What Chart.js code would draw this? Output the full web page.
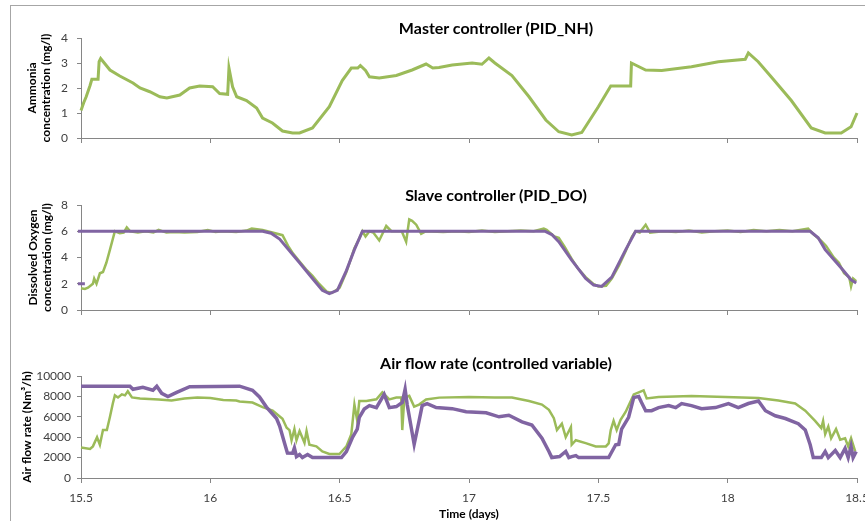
<!DOCTYPE html>
<html>
<head>
<meta charset="utf-8">
<script src="https://cdn.jsdelivr.net/npm/chart.js@4.4.0/dist/chart.umd.min.js"></script>
<style>
  html, body { margin: 0; padding: 0; background: #fff; }
  body { width: 865px; height: 521px; position: relative; overflow: hidden; font-family: Lato, sans-serif; }
  .frame { position: absolute; left: 10px; top: 5px; width: 900px; height: 600px; border: 1px solid #a6a6a6; }
  .panel { position: absolute; left: 0; }
  .title { position: absolute; font: bold 16px Lato, sans-serif; line-height: 20px; color: #000; transform: translateX(-50%); white-space: nowrap; }
</style>
</head>
<body>
<div class="frame"></div>
<canvas id="chartNH" class="panel" style="top:0" width="865" height="170"></canvas>
<canvas id="chartDO" class="panel" style="top:170px" width="865" height="170"></canvas>
<canvas id="chartAir" class="panel" style="top:340px" width="865" height="181"></canvas>
<div class="title" style="left:496px;top:18px">Master controller (PID_NH)</div>
<div class="title" style="left:496px;top:185px">Slave controller (PID_DO)</div>
<div class="title" style="left:496px;top:353px">Air flow rate (controlled variable)</div>
<script>
// time axis (days)
const xTicks = [15.5, 16, 16.5, 17, 17.5, 18, 18.5];

// ammonia concentration (mg/l)
const nhTime = [15.500, 15.510, 15.520, 15.535, 15.542, 15.566, 15.570, 15.576, 15.590, 15.612, 15.650, 15.701, 15.728, 15.766,
  15.805, 15.832, 15.882, 15.920, 15.959, 16.009, 16.036, 16.067, 16.072, 16.086, 16.102, 16.140, 16.179, 16.202, 16.240, 16.279,
  16.318, 16.345, 16.395, 16.460, 16.510, 16.545, 16.570, 16.580, 16.600, 16.615, 16.653, 16.719, 16.780, 16.834, 16.860, 16.884,
  16.935, 17.012, 17.050, 17.077, 17.100, 17.166, 17.232, 17.297, 17.347, 17.397, 17.436, 17.500, 17.548, 17.625, 17.628, 17.683,
  17.745, 17.860, 17.964, 18.068, 18.080, 18.118, 18.168, 18.246, 18.323, 18.377, 18.439, 18.477, 18.500];
const nhValue = [1.1, 1.4, 1.65, 2.1, 2.35, 2.35, 3.05, 3.18, 3.0, 2.72, 2.48, 2.2, 2.0, 1.85,
  1.65, 1.6, 1.72, 2.0, 2.08, 2.05, 1.78, 1.75, 2.8, 2.05, 1.65, 1.5, 1.2, 0.8, 0.6, 0.28,
  0.2, 0.2, 0.4, 1.25, 2.3, 2.8, 2.8, 2.9, 2.7, 2.45, 2.4, 2.5, 2.72, 2.96, 2.8, 2.82,
  2.92, 3.0, 2.95, 3.2, 3.0, 2.5, 1.65, 0.72, 0.25, 0.12, 0.22, 1.25, 2.08, 2.08, 3.0, 2.72,
  2.7, 2.85, 3.05, 3.15, 3.4, 3.05, 2.45, 1.5, 0.4, 0.2, 0.2, 0.45, 1.0];

// dissolved oxygen, measured (mg/l)
const doTime = [15.500, 15.515, 15.527, 15.540, 15.546, 15.551, 15.560, 15.573, 15.585, 15.598, 15.612, 15.631, 15.650, 15.665,
  15.677, 15.690, 15.720, 15.750, 15.780, 15.800, 15.830, 15.860, 15.900, 15.950, 15.990, 16.020, 16.050, 16.100, 16.140, 16.160,
  16.202, 16.240, 16.279, 16.300, 16.320, 16.345, 16.370, 16.395, 16.420, 16.450, 16.470, 16.500, 16.526, 16.557, 16.575, 16.588,
  16.600, 16.615, 16.630, 16.653, 16.680, 16.700, 16.740, 16.757, 16.769, 16.780, 16.796, 16.815, 16.834, 16.900, 16.950, 17.000,
  17.050, 17.100, 17.150, 17.200, 17.250, 17.289, 17.300, 17.330, 17.347, 17.370, 17.397, 17.420, 17.451, 17.480, 17.500, 17.530,
  17.552, 17.580, 17.606, 17.630, 17.644, 17.660, 17.683, 17.700, 17.750, 17.800, 17.850, 17.900, 17.950, 18.000, 18.050, 18.100,
  18.150, 18.200, 18.250, 18.311, 18.330, 18.360, 18.380, 18.410, 18.430, 18.450, 18.470, 18.477, 18.485, 18.497];
const doMeasured = [1.65, 1.6, 1.7, 1.9, 2.0, 2.4, 2.0, 2.8, 2.9, 3.6, 4.6, 6.0, 5.85, 5.9,
  6.3, 6.0, 5.9, 6.0, 5.9, 6.1, 5.9, 5.95, 5.9, 5.95, 6.1, 5.95, 6.0, 5.95, 6.05, 6.2,
  6.1, 5.9, 5.7, 4.9, 4.3, 3.7, 3.1, 2.6, 2.0, 1.4, 1.3, 1.7, 2.9, 4.7, 5.4, 6.0,
  5.6, 6.0, 5.9, 5.3, 6.4, 6.0, 6.0, 5.2, 6.9, 6.8, 6.5, 5.8, 6.0, 5.95, 6.0, 5.95,
  6.05, 5.95, 6.0, 6.05, 6.0, 6.2, 6.1, 5.6, 5.5, 4.8, 3.9, 3.2, 2.5, 2.0, 1.8, 1.85,
  2.4, 3.4, 4.5, 5.6, 6.0, 5.9, 6.5, 5.9, 6.0, 5.95, 6.05, 5.9, 6.0, 6.05, 5.95, 6.1,
  6.0, 6.1, 6.0, 6.2, 5.8, 5.3, 4.9, 4.0, 3.6, 2.8, 2.5, 1.8, 2.4, 2.2];

// dissolved oxygen setpoint (mg/l)
const spTime = [15.488, 16.202, 16.235, 16.268, 16.345, 16.395, 16.433, 16.460, 16.491, 16.526, 16.557, 16.588,
  17.293, 17.320, 17.347, 17.397, 17.451, 17.482, 17.513, 17.552, 17.606, 17.644,
  18.319, 18.350, 18.377, 18.439, 18.477, 18.497];
const doSetpoint = [6, 6, 5.85, 5.4, 3.6, 2.4, 1.5, 1.25, 1.5, 3.0, 4.6, 6.0,
  6.0, 5.75, 5.2, 3.8, 2.4, 1.9, 1.8, 2.5, 4.6, 6.0,
  6.0, 5.5, 4.6, 3.2, 2.3, 2.05];
const spStartTime = [15.488, 15.515];
const spStartValue = [2, 2];

// air flow rate (Nm3/h), green series
const airTimeG = [15.500, 15.535, 15.546, 15.562, 15.573, 15.585, 15.600, 15.612, 15.623, 15.631, 15.643, 15.658, 15.670, 15.681,
  15.697, 15.728, 15.800, 15.850, 15.900, 15.950, 16.000, 16.050, 16.100, 16.113, 16.163, 16.202, 16.241, 16.279, 16.295, 16.306,
  16.314, 16.325, 16.333, 16.345, 16.364, 16.372, 16.383, 16.410, 16.433, 16.460, 16.499, 16.526, 16.545, 16.557, 16.568, 16.576,
  16.603, 16.642, 16.665, 16.692, 16.719, 16.738, 16.742, 16.750, 16.769, 16.788, 16.807, 16.834, 16.885, 17.000, 17.100, 17.166,
  17.232, 17.282, 17.309, 17.328, 17.340, 17.359, 17.374, 17.394, 17.397, 17.413, 17.451, 17.490, 17.529, 17.540, 17.548, 17.559,
  17.571, 17.586, 17.606, 17.637, 17.675, 17.687, 17.733, 17.860, 17.991, 18.119, 18.196, 18.261, 18.300, 18.338, 18.362, 18.369,
  18.377, 18.389, 18.400, 18.419, 18.435, 18.454, 18.466, 18.477, 18.493];
const airGreen = [3000, 2850, 3100, 4000, 3260, 4700, 4700, 6000, 7300, 8100, 7900, 8200, 8100, 8500,
  7900, 7800, 7700, 7600, 7800, 7900, 7850, 7650, 7600, 7500, 7400, 6950, 6600, 5800, 4930, 4700,
  3700, 4800, 3700, 4600, 3450, 4600, 3260, 3100, 2600, 2350, 2350, 3100, 4300, 7200, 5600, 7550,
  7550, 7720, 8400, 7700, 7880, 7880, 4700, 7880, 8050, 7000, 7200, 7700, 7880, 7950, 7900, 7900,
  7550, 7200, 6680, 5860, 4700, 5330, 4000, 5000, 3260, 3700, 3420, 3100, 3100, 3400, 4700, 5600,
  4700, 5700, 6500, 8200, 8600, 7800, 7950, 8050, 7950, 7850, 7600, 7300, 6600, 5600, 4900, 5600,
  4300, 5050, 3900, 4800, 3760, 3900, 3100, 3900, 2600];

// air flow rate (Nm3/h), purple series
const airTimeP = [15.500, 15.689, 15.701, 15.739, 15.778, 15.793, 15.812, 15.836, 15.870, 15.920, 16.113, 16.163, 16.190, 16.217,
  16.256, 16.268, 16.287, 16.298, 16.318, 16.325, 16.333, 16.345, 16.356, 16.376, 16.395, 16.507, 16.526, 16.549, 16.568, 16.576,
  16.595, 16.615, 16.642, 16.672, 16.692, 16.719, 16.742, 16.753, 16.761, 16.788, 16.807, 16.819, 16.838, 16.873, 16.935, 16.989,
  17.066, 17.116, 17.154, 17.205, 17.243, 17.282, 17.309, 17.320, 17.350, 17.374, 17.386, 17.397, 17.413, 17.424, 17.540, 17.567,
  17.579, 17.590, 17.617, 17.637, 17.656, 17.667, 17.683, 17.706, 17.733, 17.772, 17.799, 17.822, 17.860, 17.899, 17.953, 18.003,
  18.041, 18.080, 18.119, 18.146, 18.184, 18.223, 18.273, 18.300, 18.319, 18.331, 18.362, 18.377, 18.389, 18.416, 18.435, 18.454,
  18.466, 18.477, 18.485, 18.497];
const airPurple = [9000, 9000, 8700, 8900, 8600, 9000, 8300, 7980, 8400, 8950, 9000, 8600, 7950, 6950,
  5830, 5100, 3400, 2450, 2430, 2950, 2100, 2300, 2000, 2300, 2000, 2000, 2600, 3950, 4800, 5950,
  6760, 7100, 6900, 8200, 6900, 7000, 7400, 8700, 7200, 3300, 5600, 7100, 7300, 6900, 6800, 6500,
  6400, 6000, 6150, 5500, 5200, 3900, 2600, 2000, 2100, 2600, 2000, 2100, 2200, 2000, 2000, 3260,
  3300, 4800, 5950, 7900, 8000, 7400, 6600, 6600, 6900, 7100, 6900, 7300, 7100, 6800, 6900, 7300,
  6900, 7300, 7550, 6600, 6100, 5830, 5330, 4700, 3260, 2000, 2000, 2600, 2000, 2700, 2000, 2900,
  2000, 3100, 2000, 2600];

const GREEN = '#9BBB59';
const PURPLE = '#8064A2';
const AXIS = '#868686';

function pts(xs, ys) {
  return xs.map((x, i) => ({ x: x, y: ys[i] }));
}

function line(xs, ys, color, width, order) {
  return {
    data: pts(xs, ys),
    borderColor: color,
    borderWidth: width,
    pointRadius: 0,
    tension: 0,
    fill: false,
    clip: { left: 6, top: 2, right: 2, bottom: 2 },
    order: order
  };
}

function makePanel(id, datasets, y, opts) {
  const ctx = document.getElementById(id).getContext('2d');
  return new Chart(ctx, {
    type: 'line',
    data: { datasets: datasets },
    options: {
      responsive: false,
      animation: false,
      events: [],
      layout: { padding: { top: opts.top, right: 8, left: 0, bottom: 0 } },
      plugins: { legend: { display: false }, tooltip: { enabled: false }, title: { display: false } },
      scales: {
        x: {
          type: 'linear',
          min: 15.5,
          max: 18.5,
          afterBuildTicks: s => { s.ticks = xTicks.map(v => ({ value: v })); },
          afterFit: s => { s.height = opts.xHeight; s.paddingLeft = 0; s.paddingRight = 0; },
          border: { color: AXIS, width: 1 },
          grid: { drawOnChartArea: false, color: AXIS, tickLength: 5 },
          ticks: {
            display: opts.xLabels,
            padding: 8,
            color: '#404040',
            font: { family: 'Lato', size: 12 },
            maxRotation: 0,
            autoSkip: false,
            callback: v => String(v)
          },
          title: {
            display: opts.xLabels,
            text: 'Time (days)',
            color: '#000',
            font: { family: 'Lato', size: 12, weight: 'bold' },
            padding: { top: 0, bottom: 0 }
          }
        },
        y: {
          min: y.min,
          max: y.max,
          afterFit: s => { s.width = 81; s.paddingTop = 0; s.paddingBottom = 0; },
          border: { color: AXIS, width: 1 },
          grid: { drawOnChartArea: false, color: AXIS, tickLength: 4 },
          ticks: {
            stepSize: y.step,
            padding: opts.yPad,
            color: '#404040',
            font: { family: 'Lato', size: 12 },
            callback: v => String(v)
          },
          title: {
            display: true,
            text: opts.yTitle,
            color: '#000',
            font: { family: 'Lato', size: 12, weight: 'bold' },
            padding: { top: opts.yTitlePad, bottom: 0 }
          }
        }
      }
    }
  });
}

makePanel('chartNH',
  [line(nhTime, nhValue, GREEN, 3, 1)],
  { min: 0, max: 4, step: 1 },
  { top: 38, xHeight: 32, xLabels: false, yPad: 9, yTitle: ['Ammonia', 'concentration (mg/l)'], yTitlePad: 25 });

makePanel('chartDO',
  [line(spTime, doSetpoint, PURPLE, 3, 0), line(spStartTime, spStartValue, PURPLE, 3, 0), line(doTime, doMeasured, GREEN, 2.5, 1)],
  { min: 0, max: 8, step: 2 },
  { top: 35, xHeight: 30, xLabels: false, yPad: 9, yTitle: ['Dissolved Oxygen', 'concentration (mg/l)'], yTitlePad: 26 });

makePanel('chartAir',
  [line(airTimeP, airPurple, PURPLE, 3.5, 0), line(airTimeG, airGreen, GREEN, 2.5, 1)],
  { min: 0, max: 10000, step: 2000 },
  { top: 36, xHeight: 43, xLabels: true, yPad: 6, yTitle: 'Air flow rate (Nm\u00B3/h)', yTitlePad: 20 });
</script>
</body>
</html>
